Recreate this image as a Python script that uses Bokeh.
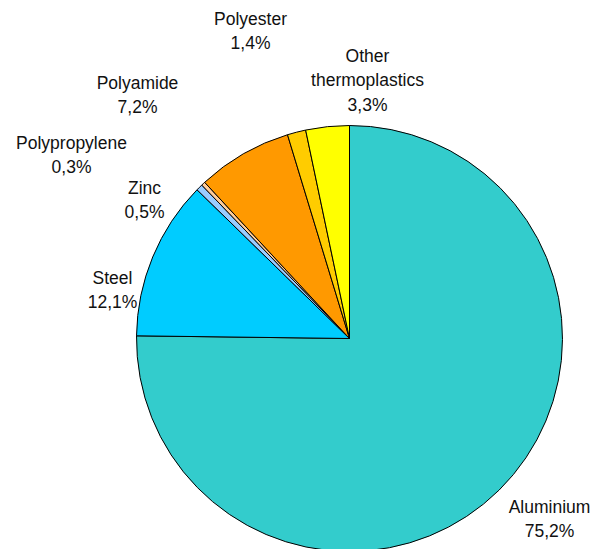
import numpy as np
from bokeh.plotting import figure
from bokeh.models import ColumnDataSource, Range1d
from bokeh.embed import file_html
from bokeh.resources import INLINE
from bokeh.core.properties import value

# ---- data ----
materials = ["Aluminium", "Steel", "Zinc", "Polypropylene", "Polyamide", "Polyester", "Other thermoplastics"]
shares = [75.2, 12.1, 0.5, 0.3, 7.2, 1.4, 3.3]
share_labels = ["75,2%", "12,1%", "0,5%", "0,3%", "7,2%", "1,4%", "3,3%"]
name_lines = [["Aluminium"], ["Steel"], ["Zinc"], ["Polypropylene"], ["Polyamide"], ["Polyester"], ["Other", "thermoplastics"]]

# ---- styles / layout ----
colors = ["#33CCCC", "#00CCFF", "#99CCFF", "#FFCC99", "#FF9900", "#FFCC00", "#FFFF00"]
# label anchor (px, centre of first line)
label_pos = [(549, 506), (112, 277), (144, 187), (71, 142), (137, 82), (250, 18), (367, 55)]
line_gap = 24.5

W, H = 600, 549
def sx(px): return px
def sy(py): return H - py

cx, cy, r = sx(349), sy(338), 213

shares_arr = np.array(shares, dtype=float)
cum = np.concatenate([[0], np.cumsum(shares_arr)]) / shares_arr.sum()
start = np.pi / 2 - 2 * np.pi * cum[:-1]
end = np.pi / 2 - 2 * np.pi * cum[1:]

src = ColumnDataSource(dict(name=materials, start=start, end=end, color=colors))

p = figure(width=W, height=H, x_range=Range1d(0, W), y_range=Range1d(0, H),
           x_axis_type=None, y_axis_type=None, output_backend="svg",
           toolbar_location=None, min_border=0)
p.grid.visible = False
p.outline_line_color = None
p.background_fill_color = "white"

p.wedge(x=cx, y=cy, radius=r, start_angle="start", end_angle="end", direction="clock",
        fill_color="color", line_color="black", line_width=1, source=src)

tx, ty, tt = [], [], []
for lines, pct, (lx, ly) in zip(name_lines, share_labels, label_pos):
    all_lines = lines + [pct]
    for i, t in enumerate(all_lines):
        tx.append(sx(lx))
        ty.append(sy(ly + i * line_gap))
        tt.append(t)

p.text(x=tx, y=ty, text=tt, text_align="center", text_baseline="middle",
       text_font=value("Liberation Sans"), text_font_size="17.5px", text_color="#111111")

open("out.html", "w").write(file_html(p, INLINE))
